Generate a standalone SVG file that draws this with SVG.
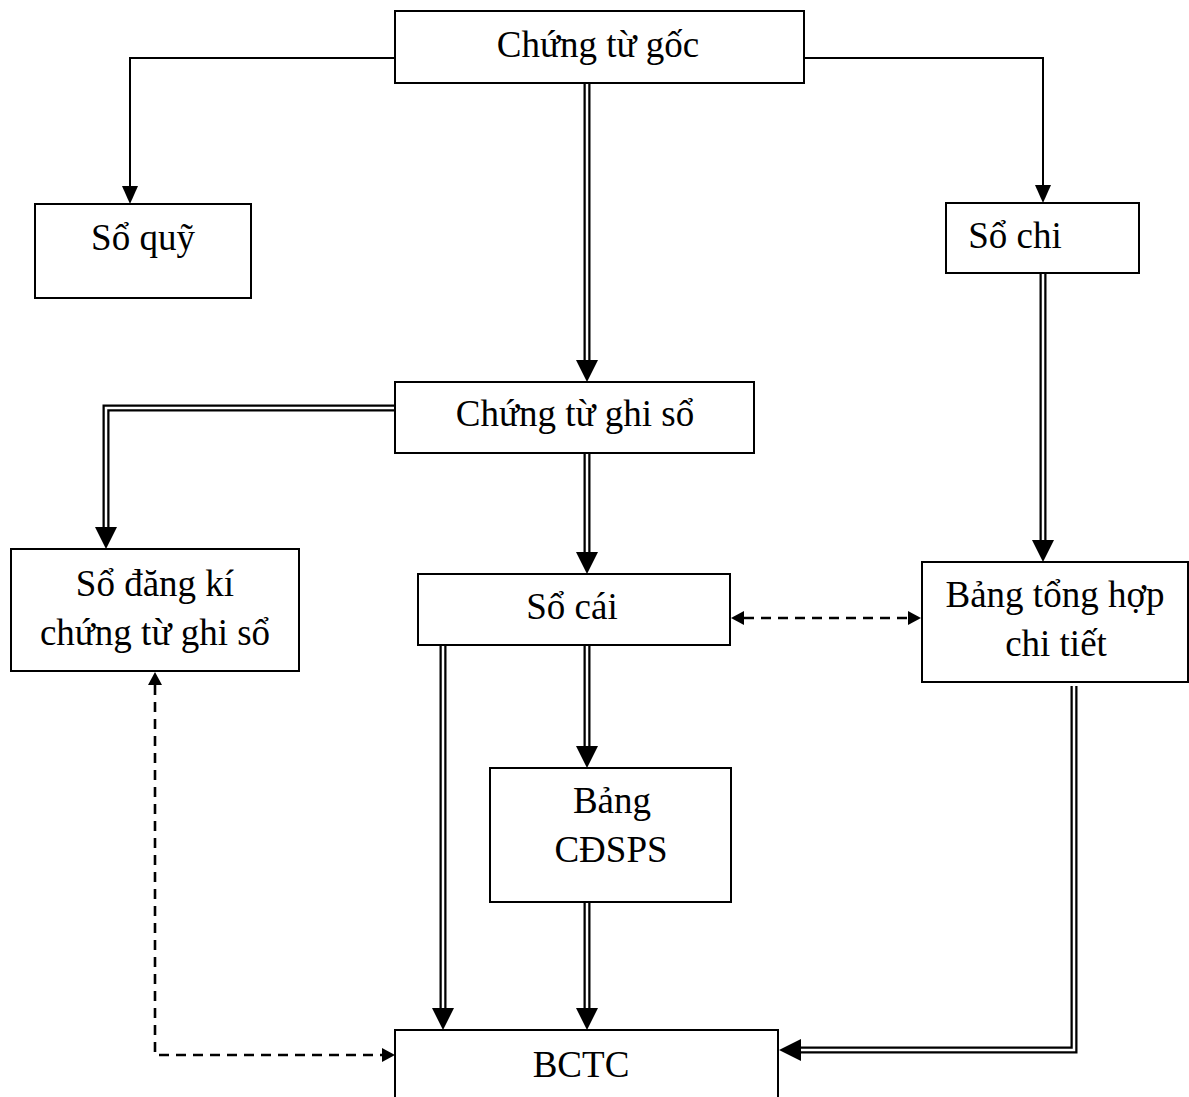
<svg xmlns="http://www.w3.org/2000/svg" width="1189" height="1097" viewBox="0 0 1189 1097">
<defs>
<style>
.box{fill:#fff;stroke:#000;stroke-width:2}
.t{font-family:"Liberation Serif","Times New Roman",serif;font-size:37px;fill:#000;text-anchor:middle}
.single{fill:none;stroke:#000;stroke-width:2}
.dbl-o{fill:none;stroke:#000;stroke-width:7}
.dbl-i{fill:none;stroke:#fff;stroke-width:2.5}
.dash{fill:none;stroke:#000;stroke-width:2.6;stroke-dasharray:10 7}
</style>
<marker id="bigArrow" markerUnits="userSpaceOnUse" viewBox="0 0 22 22" markerWidth="22" markerHeight="22" refX="0" refY="11" orient="auto"><path d="M0,0 L22,11 L0,22 z" fill="#000"/></marker>
<marker id="smallArrow" markerUnits="userSpaceOnUse" viewBox="0 0 18 16" markerWidth="18" markerHeight="16" refX="0" refY="8" orient="auto"><path d="M0,0 L18,8 L0,16 z" fill="#000"/></marker>
<marker id="dashArrow" markerUnits="userSpaceOnUse" viewBox="0 0 13 14" markerWidth="13" markerHeight="14" refX="0" refY="7" orient="auto-start-reverse"><path d="M0,0 L13,7 L0,14 z" fill="#000"/></marker>
</defs>
<rect width="1189" height="1097" fill="#fff"/>

<g id="connectors">
<path class="single" d="M395,58 H130 V186" marker-end="url(#smallArrow)"/>
<path class="single" d="M804,58 H1043 V185" marker-end="url(#smallArrow)"/>

<path class="dbl-o" d="M587,84 V360" marker-end="url(#bigArrow)"/>
<path class="dbl-i" d="M587,84 V360"/>

<path class="dbl-o" d="M395,408 H106 V527" marker-end="url(#bigArrow)"/>
<path class="dbl-i" d="M395,408 H106 V527"/>

<path class="dbl-o" d="M587,454 V552" marker-end="url(#bigArrow)"/>
<path class="dbl-i" d="M587,454 V552"/>

<path class="dbl-o" d="M1043,274 V540" marker-end="url(#bigArrow)"/>
<path class="dbl-i" d="M1043,274 V540"/>

<path class="dbl-o" d="M443,646 V1008" marker-end="url(#bigArrow)"/>
<path class="dbl-i" d="M443,646 V1008"/>

<path class="dbl-o" d="M587,646 V746" marker-end="url(#bigArrow)"/>
<path class="dbl-i" d="M587,646 V746"/>

<path class="dbl-o" d="M587,903 V1008" marker-end="url(#bigArrow)"/>
<path class="dbl-i" d="M587,903 V1008"/>

<path class="dbl-o" d="M1074,686 V1050 H801" marker-end="url(#bigArrow)"/>
<path class="dbl-i" d="M1074,686 V1050 H801"/>

<path class="dash" d="M744,618 H908" marker-start="url(#dashArrow)" marker-end="url(#dashArrow)"/>
<path class="dash" d="M155,685 V1055 H382" marker-start="url(#dashArrow)" marker-end="url(#dashArrow)"/>
</g>

<g id="chung-tu-goc"><rect class="box" x="395" y="11" width="409" height="72"/><text class="t" x="598" y="57">Chứng từ gốc</text></g>
<g id="so-quy"><rect class="box" x="35" y="204" width="216" height="94"/><text class="t" x="143" y="250">Sổ quỹ</text></g>
<g id="so-chi"><rect class="box" x="946" y="203" width="193" height="70"/><text class="t" x="1015" y="248">Sổ chi</text></g>
<g id="chung-tu-ghi-so"><rect class="box" x="395" y="382" width="359" height="71"/><text class="t" x="575" y="426">Chứng từ ghi sổ</text></g>
<g id="so-dang-ki"><rect class="box" x="11" y="549" width="288" height="122"/><text class="t" x="155" y="596">Sổ đăng kí</text><text class="t" x="155" y="645">chứng từ ghi sổ</text></g>
<g id="so-cai"><rect class="box" x="418" y="574" width="312" height="71"/><text class="t" x="572" y="619">Sổ cái</text></g>
<g id="bang-tong-hop"><rect class="box" x="922" y="562" width="266" height="120"/><text class="t" x="1055" y="607">Bảng tổng hợp</text><text class="t" x="1056" y="656">chi tiết</text></g>
<g id="bang-cdsps"><rect class="box" x="490" y="768" width="241" height="134"/><text class="t" x="612" y="813">Bảng</text><text class="t" x="611" y="862">CĐSPS</text></g>
<g id="bctc"><rect class="box" x="395" y="1030" width="383" height="80"/><text class="t" x="581" y="1077">BCTC</text></g>
</svg>
